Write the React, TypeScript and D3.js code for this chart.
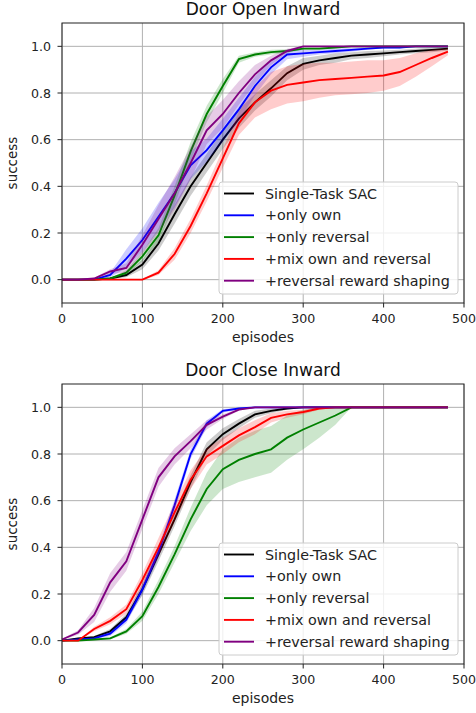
import * as d3 from 'd3';
import * as React from 'react';

const episodes = [0, 20, 40, 60, 80, 100, 120, 140, 160, 180, 200, 220, 240, 260, 280, 300, 320, 340, 360, 380, 400, 420, 440, 460, 480];

const seriesNames = ['Single-Task SAC', '+only own', '+only reversal', '+mix own and reversal', '+reversal reward shaping'];
const seriesColors = ['#000000', '#0000ff', '#008000', '#ff0000', '#800080'];

const xTicks = [0, 100, 200, 300, 400, 500];
const yTicks = [0, 0.2, 0.4, 0.6, 0.8, 1.0];

// Door Open Inward
const openSac = [0, 0, 0, 0.005, 0.02, 0.065, 0.155, 0.28, 0.4, 0.5, 0.6, 0.69, 0.76, 0.82, 0.885, 0.925, 0.94, 0.95, 0.96, 0.965, 0.97, 0.975, 0.98, 0.985, 0.99];
const openSacStd = [0, 0, 0, 0.003, 0.01, 0.02, 0.03, 0.04, 0.04, 0.04, 0.04, 0.04, 0.035, 0.035, 0.03, 0.025, 0.02, 0.02, 0.015, 0.015, 0.012, 0.01, 0.01, 0.01, 0.008];
const openOwn = [0, 0, 0, 0.02, 0.09, 0.17, 0.27, 0.37, 0.49, 0.555, 0.64, 0.73, 0.83, 0.91, 0.965, 0.97, 0.975, 0.98, 0.985, 0.99, 0.995, 0.995, 1, 1, 1];
const openOwnStd = [0, 0, 0, 0.01, 0.04, 0.05, 0.06, 0.06, 0.06, 0.05, 0.05, 0.05, 0.04, 0.03, 0.02, 0.015, 0.01, 0.01, 0.008, 0.005, 0.004, 0.004, 0, 0, 0];
const openRev = [0, 0, 0, 0.005, 0.03, 0.1, 0.19, 0.36, 0.55, 0.71, 0.83, 0.945, 0.965, 0.975, 0.98, 0.99, 0.99, 0.995, 1, 1, 1, 1, 1, 1, 1];
const openRevStd = [0, 0, 0, 0.003, 0.01, 0.02, 0.03, 0.04, 0.04, 0.035, 0.03, 0.015, 0.01, 0.01, 0.008, 0.005, 0.005, 0.003, 0, 0, 0, 0, 0, 0, 0];
const openMix = [0, 0, 0, 0, 0, 0, 0.03, 0.11, 0.23, 0.37, 0.52, 0.67, 0.76, 0.81, 0.835, 0.845, 0.855, 0.86, 0.865, 0.87, 0.875, 0.89, 0.92, 0.95, 0.977];
const openMixStd = [0, 0, 0, 0, 0, 0.002, 0.01, 0.025, 0.03, 0.035, 0.04, 0.05, 0.065, 0.08, 0.08, 0.08, 0.075, 0.07, 0.07, 0.07, 0.065, 0.06, 0.05, 0.035, 0.015];
const openShape = [0, 0, 0.005, 0.035, 0.05, 0.15, 0.26, 0.37, 0.5, 0.64, 0.71, 0.8, 0.88, 0.94, 0.98, 1, 1, 1, 1, 1, 1, 1, 1, 1, 1];
const openShapeStd = [0, 0, 0.003, 0.01, 0.02, 0.04, 0.06, 0.07, 0.07, 0.06, 0.06, 0.05, 0.04, 0.02, 0.01, 0, 0, 0, 0, 0, 0, 0, 0, 0, 0];

// Door Close Inward
const closeSac = [0, 0.01, 0.015, 0.04, 0.1, 0.22, 0.37, 0.52, 0.68, 0.82, 0.885, 0.93, 0.97, 0.985, 0.995, 1, 1, 1, 1, 1, 1, 1, 1, 1, 1];
const closeSacStd = [0, 0.003, 0.005, 0.01, 0.015, 0.025, 0.03, 0.03, 0.03, 0.03, 0.025, 0.02, 0.015, 0.01, 0.005, 0, 0, 0, 0, 0, 0, 0, 0, 0, 0];
const closeOwn = [0, 0.005, 0.01, 0.03, 0.09, 0.22, 0.38, 0.58, 0.8, 0.93, 0.985, 0.995, 1, 1, 1, 1, 1, 1, 1, 1, 1, 1, 1, 1, 1];
const closeOwnStd = [0, 0.003, 0.005, 0.01, 0.015, 0.02, 0.025, 0.025, 0.02, 0.015, 0.008, 0.003, 0, 0, 0, 0, 0, 0, 0, 0, 0, 0, 0, 0, 0];
const closeRev = [0, 0, 0.005, 0.01, 0.04, 0.105, 0.23, 0.37, 0.52, 0.65, 0.735, 0.775, 0.8, 0.82, 0.87, 0.905, 0.935, 0.965, 1, 1, 1, 1, 1, 1, 1];
const closeRevStd = [0, 0, 0.002, 0.005, 0.01, 0.02, 0.03, 0.035, 0.05, 0.07, 0.085, 0.095, 0.1, 0.1, 0.095, 0.085, 0.065, 0.04, 0, 0, 0, 0, 0, 0, 0];
const closeMix = [0, 0, 0.05, 0.085, 0.135, 0.26, 0.4, 0.55, 0.69, 0.79, 0.835, 0.88, 0.915, 0.955, 0.97, 0.98, 0.995, 1, 1, 1, 1, 1, 1, 1, 1];
const closeMixStd = [0, 0, 0.01, 0.015, 0.02, 0.03, 0.04, 0.04, 0.04, 0.035, 0.035, 0.03, 0.03, 0.02, 0.015, 0.01, 0.005, 0, 0, 0, 0, 0, 0, 0, 0];
const closeShape = [0.005, 0.035, 0.11, 0.25, 0.34, 0.52, 0.7, 0.79, 0.855, 0.925, 0.96, 0.99, 1, 1, 1, 1, 1, 1, 1, 1, 1, 1, 1, 1, 1];
const closeShapeStd = [0.003, 0.01, 0.03, 0.04, 0.04, 0.04, 0.04, 0.035, 0.03, 0.02, 0.01, 0.005, 0, 0, 0, 0, 0, 0, 0, 0, 0, 0, 0, 0, 0];

type PanelProps = {
  title: string;
  top: number;
  means: number[][];
  stds: number[][];
};

const FONT = '"DejaVu Sans", sans-serif';
const LEFT = 62;
const RIGHT = 464;
const PLOT_H = 280;

const Panel = ({ title, top, means, stds }: PanelProps) => {
  const bottom = top + PLOT_H;
  const x = d3.scaleLinear().domain([0, 500]).range([LEFT, RIGHT]);
  const y = d3.scaleLinear().domain([-0.1, 1.1]).range([bottom, top]);

  const line = d3
    .line<number>()
    .x((_, i) => x(episodes[i]))
    .y((d) => y(d));

  const legendTop = bottom - 121;
  const legendLeft = 219;

  return (
    <g>
      <text x={(LEFT + RIGHT) / 2} y={top - 8} textAnchor="middle" fontSize={17} fill="#111">
        {title}
      </text>
      {xTicks.map((t) => (
        <line key={'gx' + t} x1={x(t)} x2={x(t)} y1={top} y2={bottom} stroke="#b0b0b0" strokeWidth={1} />
      ))}
      {yTicks.map((t) => (
        <line key={'gy' + t} x1={LEFT} x2={RIGHT} y1={y(t)} y2={y(t)} stroke="#b0b0b0" strokeWidth={1} />
      ))}
      {means.map((m, k) => {
        const area = d3
          .area<number>()
          .x((_, i) => x(episodes[i]))
          .y0((d, i) => y(d - stds[k][i]))
          .y1((d, i) => y(d + stds[k][i]));
        return (
          <g key={k}>
            <path d={area(m) ?? ''} fill={seriesColors[k]} fillOpacity={0.2} stroke="none" />
            <path d={line(m) ?? ''} fill="none" stroke={seriesColors[k]} strokeWidth={1.9} />
          </g>
        );
      })}
      <rect x={LEFT} y={top} width={RIGHT - LEFT} height={PLOT_H} fill="none" stroke="#222" strokeWidth={1} />
      {xTicks.map((t) => (
        <g key={'tx' + t}>
          <line x1={x(t)} x2={x(t)} y1={bottom} y2={bottom + 4.5} stroke="#222" />
          <text x={x(t)} y={bottom + 20} textAnchor="middle" fontSize={12.6} fill="#222">
            {t}
          </text>
        </g>
      ))}
      {yTicks.map((t) => (
        <g key={'ty' + t}>
          <line x1={LEFT - 4.5} x2={LEFT} y1={y(t)} y2={y(t)} stroke="#222" />
          <text x={51} y={y(t) + 4.5} textAnchor="end" fontSize={12.6} fill="#222">
            {t.toFixed(1)}
          </text>
        </g>
      ))}
      <text x={(LEFT + RIGHT) / 2} y={bottom + 39} textAnchor="middle" fontSize={14} fill="#222">
        episodes
      </text>
      <text
        transform={`translate(17, ${(top + bottom) / 2}) rotate(-90)`}
        textAnchor="middle"
        fontSize={13.5}
        fill="#222"
      >
        success
      </text>
      <rect
        x={legendLeft}
        y={legendTop}
        width={239}
        height={112}
        rx={3}
        fill="#fff"
        fillOpacity={0.8}
        stroke="#cccccc"
        strokeWidth={1}
      />
      {seriesNames.map((name, i) => {
        const cy = legendTop + 11.5 + i * 21.8;
        return (
          <g key={name}>
            <line x1={224} x2={254} y1={cy} y2={cy} stroke={seriesColors[i]} strokeWidth={1.9} />
            <text x={265} y={cy + 5} fontSize={14.3} fill="#222">
              {name}
            </text>
          </g>
        );
      })}
    </g>
  );
};

export default function App() {
  return (
    <svg
      width={476}
      height={713}
      style={{ position: 'absolute', left: 0, top: 0, fontFamily: FONT, background: '#fff' }}
    >
      <Panel
        title="Door Open Inward"
        top={23}
        means={[openSac, openOwn, openRev, openMix, openShape]}
        stds={[openSacStd, openOwnStd, openRevStd, openMixStd, openShapeStd]}
      />
      <Panel
        title="Door Close Inward"
        top={384}
        means={[closeSac, closeOwn, closeRev, closeMix, closeShape]}
        stds={[closeSacStd, closeOwnStd, closeRevStd, closeMixStd, closeShapeStd]}
      />
    </svg>
  );
}
